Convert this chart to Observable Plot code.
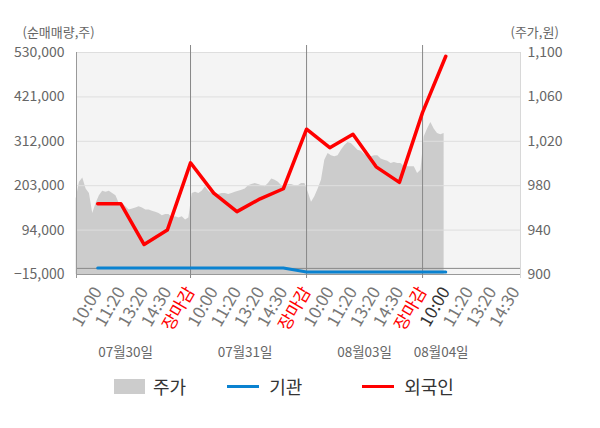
<!DOCTYPE html>
<html><head><meta charset="utf-8">
<script src="https://cdn.jsdelivr.net/npm/d3@7"></script>
<script src="https://cdn.jsdelivr.net/npm/@observablehq/plot@0.6"></script>
<style>
body{margin:0;background:#fff;font-family:'Noto Sans CJK KR',sans-serif;}
#legend{display:flex;align-items:center;height:42px;padding-left:114px;font-size:18px;color:#333;}
#legend .it{display:flex;align-items:center;}
#legend .sw{width:31px;height:15px;background:#cccccc;margin-right:8px;}
#legend .ln{width:32px;height:3px;margin-right:10px;}
</style></head>
<body>
<div id="chart"></div>
<div id="legend">
  <div class="it" style="margin-right:41px"><div class="sw"></div><span>주가</span></div>
  <div class="it" style="margin-right:60px"><div class="ln" style="background:#0a82d0"></div><span>기관</span></div>
  <div class="it"><div class="ln" style="background:#ff0000"></div><span>외국인</span></div>
</div>
<script>
// ---- data ----
const dates = ["07월30일", "07월31일", "08월03일", "08월04일"];
const dateLabelAt = [2.2, 7.35, 12.5, 15.8];
const timeLabels = ["10:00","11:20","13:20","14:30","장마감","10:00","11:20","13:20","14:30","장마감","10:00","11:20","13:20","14:30","장마감","10:00","11:20","13:20","14:30"];
const currentTick = 16;
const leftTicks = [-15000, 94000, 203000, 312000, 421000, 530000];
const priceTicks = [900, 940, 980, 1020, 1060, 1100];
// net buying (shares) at tick times index 1..16
const foreign = [158400, 158400, 58600, 94000, 259200, 184900, 139400, 170800, 195500, 341700, 296300, 329300, 249300, 211200, 383000, 520800];
const institution = [1000, 1000, 1000, 1000, 1000, 1000, 1000, 1000, 1000, -9000, -9000, -9000, -9000, -9000, -9000, -9000];
// intraday price (won), per day
const price1 = [968, 983, 987, 977, 973, 955, 964, 971, 975, 974, 975, 973, 971, 964, 964, 961, 958, 959, 960, 961, 960, 958, 958, 957, 956, 955, 953, 954, 954, 951, 952, 951, 952, 949, 951];
const price2 = [973, 974, 973, 975, 979, 975, 973, 973, 972, 973, 973, 972, 973, 974, 975, 976, 977, 980, 981, 982, 981, 980, 979, 982, 986, 985, 983, 980, 979, 981, 981, 980, 980, 982, 982];
const price3 = [974, 965, 970, 977, 985, 1003, 1009, 1007, 1006, 1007, 1012, 1016, 1019, 1018, 1015, 1012, 1011, 1008, 1006, 1006, 1007, 1007, 1004, 1003, 1002, 1000, 1001, 1000, 1000, 997, 997, 997, 997, 991, 994];
const price4 = [1024, 1031, 1037, 1031, 1027, 1026, 1027];

// ---- build ----
const pMin = 900, pMax = 1100, yMin = -15000, yMax = 530000;
const toLeft = p => yMin + (p - pMin) * (yMax - yMin) / (pMax - pMin);
const samplesPerDay = 35, ticksPerDay = 5;
const priceData = [];
[price1, price2, price3, price4].forEach((arr, d) => {
  arr.forEach((p, i) => priceData.push({x: d * ticksPerDay + (i + 0.5) * ticksPerDay / samplesPerDay, y: toLeft(p)}));
});
const fData = foreign.map((v, i) => ({x: i + 1, y: v}));
const iData = institution.map((v, i) => ({x: i + 1, y: v}));
const xTicks = timeLabels.map((t, i) => ({x: i + 1, t, c: t === "장마감" ? "#ff0000" : (i + 1 === currentTick ? "#333333" : "#777777")}));
const dayLines = [5, 10, 15];
const xDomain = [0.086, 19.22];

const chart = Plot.plot({
  width: 600, height: 365,
  marginLeft: 76, marginRight: 80, marginTop: 52, marginBottom: 91,
  style: {fontFamily: "'Noto Sans CJK KR', sans-serif", background: "white", overflow: "visible"},
  x: {domain: xDomain, axis: null},
  y: {domain: [yMin, yMax], axis: null},
  marks: [
    Plot.frame({fill: "#f4f4f4", stroke: null}),
    Plot.areaY(priceData, {x: "x", y1: yMin, y2: "y", fill: "#cccccc"}),
    Plot.ruleY(leftTicks.slice(1), {stroke: "#dedede", strokeWidth: 1}),
    Plot.ruleY([0], {stroke: "#888888"}),
    Plot.ruleY([yMin], {stroke: "#999999"}),
    Plot.ruleX(dayLines, {stroke: "#888888", insetTop: -7, insetBottom: -4}),
    Plot.ruleX([xDomain[0]], {stroke: "#999999", insetBottom: -4}),
    Plot.ruleX([xDomain[1]], {stroke: "#d8d8d8", insetBottom: -4}),
    Plot.line(iData, {x: "x", y: "y", stroke: "#0a82d0", strokeWidth: 3}),
    Plot.line(fData, {x: "x", y: "y", stroke: "#ff0000", strokeWidth: 3.5}),
    Plot.text(leftTicks, {y: d => d, frameAnchor: "left", text: d => d3.format(",")(d), textAnchor: "end", lineAnchor: "middle", dx: -12, fontSize: 14, fill: "#666"}),
    Plot.text(priceTicks, {y: d => toLeft(d), frameAnchor: "right", text: d => d3.format(",")(d), textAnchor: "start", lineAnchor: "middle", dx: 7, fontSize: 14, fill: "#666"}),
    Plot.text(xTicks, {x: "x", frameAnchor: "bottom", text: "t", fill: "c", rotate: -60, textAnchor: "end", lineAnchor: "middle", dy: 14, dx: 0, fontSize: 17}),
    Plot.text(dates, {x: (d, i) => dateLabelAt[i], frameAnchor: "bottom", text: d => d, lineAnchor: "middle", dy: 78, fontSize: 13.5, fill: "#666"}),
    Plot.text(["(순매매량,주)"], {frameAnchor: "top-left", text: d => d, textAnchor: "start", lineAnchor: "middle", dx: -54, dy: -20, fontSize: 13, fill: "#666"}),
    Plot.text(["(주가,원)"], {frameAnchor: "top-right", text: d => d, textAnchor: "start", lineAnchor: "middle", dx: -10, dy: -20, fontSize: 13, fill: "#666"})
  ]
});
document.getElementById("chart").appendChild(chart);
</script>
</body></html>
